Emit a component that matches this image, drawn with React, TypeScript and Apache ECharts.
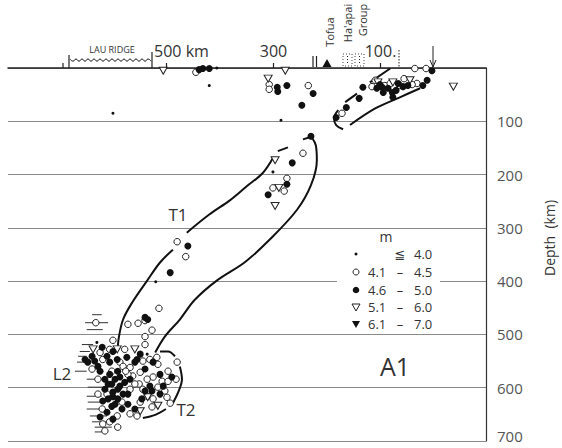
import React, { useEffect, useRef } from "react";
import * as echarts from "echarts";

// Each point: [distance from trench (km, positive toward Lau ridge), depth (km)]
const magLE40: number[][] = [
  [406, 0], [420, 33], [600, 85], [286, 98], [301, 195], [520, 401], [630, 515], [536, 537],
];

const mag41to45: number[][] = [
  [445, 8], [308, 31], [308, 40], [235, 33], [172, 85], [116, 35], [92, 33], [82, 29], [64, 33],
  [56, 20], [32, 29], [36, 1], [15, 1], [110, 23], [41, 31],
  [245, 160], [275, 207], [301, 225], [280, 231], [480, 326], [464, 354], [514, 451], [572, 481],
  [553, 479], [540, 474], [527, 492], [540, 504], [600, 511], [632, 478],
  [606, 528], [639, 565], [619, 547], [587, 552], [581, 560], [568, 562], [563, 578], [549, 571],
  [531, 547], [518, 543], [516, 556], [525, 580], [536, 584], [508, 588], [480, 552], [497, 588],
  [611, 612], [568, 603], [620, 640], [592, 653], [606, 664], [619, 668], [555, 653], [536, 616],
  [525, 621], [527, 636], [499, 618], [572, 575], [628, 612], [583, 627], [551, 593], [544, 550],
  [624, 534], [497, 569], [482, 584],
  [602, 569], [576, 569], [559, 593], [544, 603], [516, 599], [503, 606], [549, 627], [568, 649],
  [615, 681], [591, 674], [628, 584], [540, 519], [578, 528], [493, 629],
];

const mag46to50: number[][] = [
  [439, 3], [432, 1], [420, 1], [293, 36], [292, 44], [275, 33], [226, 48], [247, 70], [133, 36],
  [140, 57], [164, 74], [183, 93], [107, 38], [97, 36], [95, 46], [86, 38], [78, 46], [77, 55],
  [67, 29], [58, 35], [49, 33], [21, 33], [13, 23], [4, 5], [101, 31], [71, 42],
  [230, 128], [265, 178], [275, 218], [310, 238], [460, 334], [493, 384], [540, 468], [535, 472],
  [620, 524], [647, 552], [634, 550], [628, 560], [611, 541], [592, 547], [574, 543], [559, 552],
  [555, 547], [540, 565], [525, 552], [512, 575], [506, 597], [615, 603], [600, 608], [587, 597],
  [581, 612], [591, 621], [602, 635], [611, 646], [559, 640], [527, 606], [540, 606], [606, 575],
  [596, 584], [609, 593], [591, 569], [578, 590], [600, 617], [619, 625], [572, 631], [600, 532],
  [652, 547], [490, 580],
  [624, 569], [615, 584], [602, 593], [587, 580], [572, 612], [596, 631], [609, 621], [583, 640],
  [568, 584], [546, 621], [531, 597], [512, 612], [639, 541], [606, 552], [549, 537], [600, 659],
  [624, 655], [591, 603],
];

const mag51to60: number[][] = [
  [506, 5], [310, 20], [278, 5], [105, 27], [77, 27], [45, 23], [-36, 35], [297, 173], [290, 225],
  [297, 259], [637, 528], [592, 528], [559, 528], [549, 644], [535, 618], [516, 634],
];

const mag61to70: number[][] = [];

// Horizontal location bars: [from km, to km, depth km]
const locationBars: number[][] = [
  [639, 621, 463], [652, 609, 478], [649, 619, 491], [658, 637, 519], [662, 643, 532],
  [665, 649, 541], [667, 643, 552], [671, 649, 569], [649, 615, 584], [647, 611, 599],
  [649, 621, 616], [647, 619, 627], [649, 619, 640], [643, 611, 653], [639, 609, 664],
  [634, 602, 674], [634, 611, 683],
];

// Outline curves [distance, depth]
const t1LeftLower = [[591, 528], [589, 506], [581, 472], [564, 440], [536, 399], [512, 365], [488, 341]];
const t1LeftUpper = [[462, 309], [420, 275], [381, 248], [350, 222], [320, 197], [301, 169]];
const t1TopDash1 = [[292, 156], [273, 149]];
const t1TopDash2 = [[245, 134], [232, 130]];
const t1Right = [[228, 131], [221, 145], [219, 173], [230, 220], [256, 266], [307, 322], [353, 364],
  [406, 399], [447, 435], [475, 472], [503, 504], [521, 534]];
const t2Top = [[512, 532], [497, 532], [484, 541]];
const t2Right = [[475, 560], [471, 584], [477, 606], [488, 629]];
const t2Bottom = [[501, 640], [521, 651], [544, 657]];
const shallowDash1 = [[120, 27], [82, 1]];
const shallowDash2 = [[166, 64], [144, 48]];
const shallowBracket = [[179, 79], [187, 94], [183, 107], [170, 115]];
const shallowLower = [[157, 107], [110, 76], [64, 55], [26, 38]];

const depthTicks = [0, 100, 200, 300, 400, 500, 600, 700];
const distTicks = [500, 300, 100];
const distTickLabels = ["500 km", "300", "100."];

const legendTitle = "m";
const legendLabels = ["≦ 4.0", "4.1 – 4.5", "4.6 – 5.0", "5.1 – 6.0", "6.1 – 7.0"];

const FONT = '"Open Sans", "DejaVu Sans", sans-serif';
const TRI = "path://M0,0L10,0L5,8.66Z";

export default function App() {
  const ref = useRef<HTMLDivElement>(null);
  useEffect(() => {
    const chart = echarts.init(ref.current!, null, { renderer: "svg" });

    const outline = (data: number[][]) => ({
      type: "line",
      data,
      smooth: 0.35,
      symbol: "none",
      silent: true,
      lineStyle: { color: "#111", width: 2 },
      z: 3,
    });

    const text = (t: string, x: number, y: number, size: number, extra: any = {}) => ({
      type: "text",
      x,
      y,
      z: 100,
      silent: true,
      ...extra,
      style: {
        text: t,
        fontSize: size,
        fontFamily: FONT,
        fill: "#333",
        align: "center",
        verticalAlign: "middle",
        textAlign: "center",
        textVerticalAlign: "middle",
        ...(extra.style || {}),
      },
    });
    const line = (x1: number, y1: number, x2: number, y2: number, style: any = {}) => ({
      type: "line",
      z: 100,
      silent: true,
      shape: { x1, y1, x2, y2 },
      style: { stroke: "#222", lineWidth: 1.2, ...style },
    });

    // wavy Lau Ridge line (decoration)
    const wave: number[][] = [];
    for (let x = 70; x <= 151; x += 3) wave.push([x, 60 + (((x - 70) / 3) % 2 === 0 ? -1 : 1.2)]);

    const lx = 356;
    const rows = [254, 272, 290, 307, 324];
    const legendGraphics: any[] = [
      { type: "rect", z: 90, silent: true, shape: { x: 337, y: 241, width: 103, height: 91 }, style: { fill: "#fff" } },
      text(legendTitle, 386, 236, 14),
      { type: "circle", z: 100, shape: { cx: lx, cy: rows[0], r: 1.5 }, style: { fill: "#111" } },
      { type: "circle", z: 100, shape: { cx: lx, cy: rows[1], r: 3 }, style: { fill: "#fff", stroke: "#222", lineWidth: 1 } },
      { type: "circle", z: 100, shape: { cx: lx, cy: rows[2], r: 3.3 }, style: { fill: "#111" } },
      { type: "polygon", z: 100, shape: { points: [[lx - 4, rows[3] - 3], [lx + 4, rows[3] - 3], [lx, rows[3] + 4]] }, style: { fill: "#fff", stroke: "#222", lineWidth: 1 } },
      { type: "polygon", z: 100, shape: { points: [[lx - 4, rows[4] - 3], [lx + 4, rows[4] - 3], [lx, rows[4] + 4]] }, style: { fill: "#111" } },
    ];
    legendLabels.forEach((lab, i) => {
      const parts = lab.split(" ");
      let a = "", b = "", c = "";
      if (parts.length === 2) { b = parts[0]; c = parts[1]; } else { a = parts[0]; b = parts[1]; c = parts[2]; }
      if (a) legendGraphics.push(text(a, 368, rows[i], 13, { style: { align: "left", textAlign: "left" } }));
      legendGraphics.push(text(b, 400, rows[i], 13));
      legendGraphics.push(text(c, 414, rows[i], 13, { style: { align: "left", textAlign: "left" } }));
    });

    const lastDepth = depthTicks[depthTicks.length - 1];

    const option: any = {
      animation: false,
      backgroundColor: "#fff",
      grid: { left: 8, right: 76, top: 68, bottom: 7 },
      xAxis: {
        type: "value",
        min: -97,
        max: 796,
        inverse: true,
        position: "top",
        axisLine: { show: true, onZero: false, lineStyle: { color: "#222", width: 1.5 } },
        axisTick: { show: true, customValues: distTicks, length: 5, lineStyle: { color: "#222", width: 1.2 } },
        axisLabel: {
          show: true,
          customValues: distTicks,
          margin: 9,
          fontSize: 16,
          color: "#333",
          fontFamily: FONT,
          formatter: (v: number) => {
            const i = distTicks.indexOf(v);
            if (i < 0) return "";
            const l = distTickLabels[i];
            return l.indexOf(" ") > 0 ? "{s|}" + l : l;
          },
          rich: { s: { width: 30 } },
        },
        splitLine: { show: false },
      },
      yAxis: {
        type: "value",
        min: 0,
        max: 700,
        interval: 100,
        inverse: true,
        position: "right",
        axisLine: { show: true, onZero: false, lineStyle: { color: "#333", width: 1.2 } },
        axisTick: { show: false },
        axisLabel: {
          margin: 11,
          fontSize: 15,
          color: "#555",
          fontFamily: FONT,
          formatter: (v: number) =>
            v === depthTicks[0] ? "" : v === lastDepth ? "{last|" + v + "}" : String(v),
          rich: { last: { fontSize: 15, color: "#555", fontFamily: FONT, padding: [0, 0, 10, 0] } },
        },
        splitLine: { show: true, lineStyle: { color: "#8a8a8a", width: 1 } },
      },
      series: [
        {
          type: "custom",
          silent: true,
          z: 3,
          data: locationBars,
          encode: { x: [0, 1], y: 2 },
          renderItem: (params: any, api: any) => {
            const p1 = api.coord([api.value(0), api.value(2)]);
            const p2 = api.coord([api.value(1), api.value(2)]);
            return {
              type: "line",
              shape: { x1: p1[0], y1: p1[1], x2: p2[0], y2: p2[1] },
              style: { stroke: "#333", lineWidth: 1 },
            };
          },
        },
        outline(t1LeftLower), outline(t1LeftUpper), outline(t1TopDash1), outline(t1TopDash2),
        outline(t1Right), outline(t2Top), outline(t2Right), outline(t2Bottom),
        outline(shallowDash1), outline(shallowDash2), outline(shallowBracket), outline(shallowLower),
        {
          name: legendLabels[1], type: "scatter", data: mag41to45, symbol: "circle", symbolSize: 6.5,
          itemStyle: { color: "#fff", borderColor: "#222", borderWidth: 1, opacity: 1 }, silent: true, z: 4,
        },
        {
          name: legendLabels[3], type: "scatter", data: mag51to60, symbol: TRI, symbolSize: [8, 7],
          itemStyle: { color: "#fff", borderColor: "#222", borderWidth: 1, opacity: 1 }, silent: true, z: 4,
        },
        {
          name: legendLabels[2], type: "scatter", data: mag46to50, symbol: "circle", symbolSize: 7,
          itemStyle: { color: "#111", opacity: 1 }, silent: true, z: 5,
        },
        {
          name: legendLabels[4], type: "scatter", data: mag61to70, symbol: TRI, symbolSize: [8, 7],
          itemStyle: { color: "#111", opacity: 1 }, silent: true, z: 5,
        },
        {
          name: legendLabels[0], type: "scatter", data: magLE40, symbol: "circle", symbolSize: 3,
          itemStyle: { color: "#111", opacity: 1 }, silent: true, z: 5,
        },
      ],
      graphic: [
        ...legendGraphics,
        text("T1", 178, 214, 17),
        text("T2", 186, 409, 17),
        text("L2", 62, 373, 17),
        text("A1", 395, 366, 25),
        text("Depth  (km)", 549, 238, 14, { rotation: Math.PI / 2 }),
        // Lau ridge bracket
        text("LAU RIDGE", 112, 49, 9),
        line(69, 55, 69, 68),
        line(152, 52, 152, 68),
        line(63, 63, 63, 68),
        { type: "polyline", z: 100, silent: true, shape: { points: wave, smooth: 0.6 }, style: { stroke: "#222", lineWidth: 1, fill: null } },
        // Tofua & Ha'apai
        line(313, 56, 313, 67),
        line(316.5, 56, 316.5, 67),
        { type: "polygon", z: 100, silent: true, shape: { points: [[322.5, 67], [331.5, 67], [327, 59]] }, style: { fill: "#111" } },
        text("Tofua", 329, 32, 11, { rotation: Math.PI / 2 }),
        text("Ha'apai", 347, 23, 11, { rotation: Math.PI / 2 }),
        text("Group", 362, 20, 11, { rotation: Math.PI / 2 }),
        { type: "rect", z: 100, silent: true, shape: { x: 343, y: 54, width: 9, height: 12 }, style: { fill: null, stroke: "#444", lineWidth: 1, lineDash: [1, 2] } },
        { type: "rect", z: 100, silent: true, shape: { x: 355, y: 54, width: 9, height: 12 }, style: { fill: null, stroke: "#444", lineWidth: 1, lineDash: [1, 2] } },
        line(347.5, 56, 347.5, 65, { lineDash: [1, 2], lineWidth: 1 }),
        line(359.5, 56, 359.5, 65, { lineDash: [1, 2], lineWidth: 1 }),
        line(399, 50, 399, 67, { lineDash: [1.5, 1.5], lineWidth: 1 }),
        // trench arrow
        line(433, 46, 433, 67, { lineWidth: 1 }),
        { type: "polyline", z: 100, silent: true, shape: { points: [[430, 60], [433, 67], [436, 60]] }, style: { stroke: "#222", lineWidth: 1, fill: null } },
      ],
    };
    chart.setOption(option);
    return () => chart.dispose();
  }, []);
  return (
    <div
      ref={ref}
      style={{ position: "fixed", left: 0, top: 0, width: 562, height: 448, background: "#fff" }}
    />
  );
}
